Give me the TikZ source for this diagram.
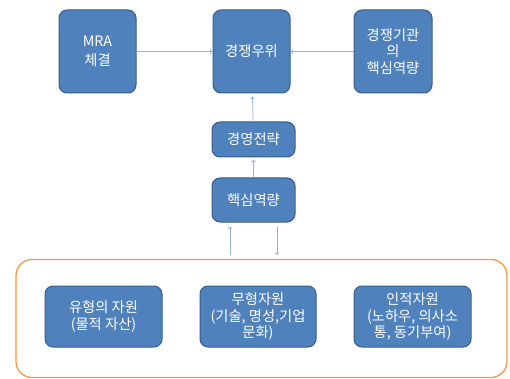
\documentclass[tikz,border=0pt]{standalone}
\usepackage{fontspec}
\setmainfont{Noto Sans CJK KR}
\usetikzlibrary{positioning}
\definecolor{boxBlue}{HTML}{4F81BD}
\definecolor{boxEdge}{HTML}{385D8A}
\definecolor{flowBlue}{HTML}{95B3D7}
\definecolor{groupOrange}{HTML}{F79646}
\newcommand{\boxFont}[0]{\fontsize{14.3}{16.5}\selectfont}

\begin{document}
\begin{tikzpicture}[x=1pt, y=-1pt]
  \tikzset{bluebox/.style={draw=boxEdge, line width=1pt, fill=boxBlue, rounded corners=8pt,
                           text=white, align=center, font=\boxFont, inner sep=0pt},
           flow/.style={->, draw=flowBlue, line width=0.8pt}}
  \useasboundingbox (0,0) rectangle (510,379);
  \node[bluebox, minimum width=77pt, minimum height=83pt] (mra) at (97.5,51.5) {MRA\\[3pt]체결};
  \node[bluebox, minimum width=77pt, minimum height=83pt] (edge) at (251.5,51.5) {경쟁우위};
  \node[bluebox, minimum width=78pt, minimum height=83pt] (rival) at (393,51.5) {경쟁기관\\의\\핵심역량};
  \node[bluebox, minimum width=83pt, minimum height=35pt] (strategy) at (253.5,139.5) {경영전략};
  \node[bluebox, minimum width=83pt, minimum height=44pt] (core) at (253.5,200) {핵심역량};
  \node[draw=groupOrange, line width=1.3pt, rounded corners=16pt,
        minimum width=491pt, minimum height=118pt] (resources) at (261.5,318.5) {};
  \node[bluebox, minimum width=117pt, minimum height=61pt] (tangible) at (103.5,316.5) {유형의 자원\\(물적 자산)};
  \node[bluebox, minimum width=116pt, minimum height=61pt] (intangible) at (258,316.5) {무형자원\\(기술, 명성,기업\\문화)};
  \node[bluebox, minimum width=117pt, minimum height=61pt] (human) at (412.5,316.5) {인적자원\\(노하우, 의사소\\통, 동기부여)};
  \coordinate (upfoot) at (230,255);
  \coordinate (downfoot) at (277,255);
  \draw[flow] (mra) -- (edge);
  \draw[flow] (rival) -- (edge);
  \draw[flow, shorten >=3pt] (strategy) -- (edge);
  \draw[flow, shorten >=2pt] (core) -- (strategy);
  \draw[flow, shorten >=4pt] (upfoot) -- (upfoot |- core.south);
  \draw[flow, shorten <=4pt] (downfoot |- core.south) -- (downfoot);
\end{tikzpicture}
\end{document}
